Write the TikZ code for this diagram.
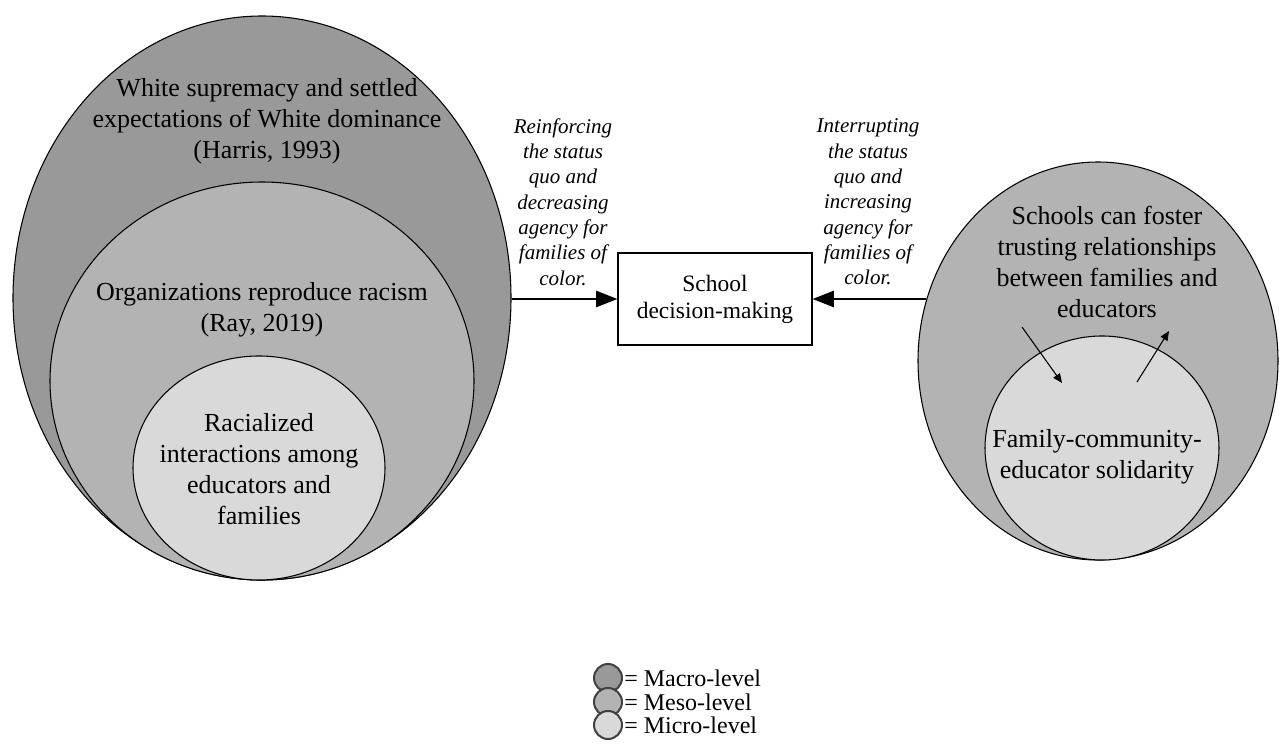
\documentclass[tikz,border=0pt]{standalone}
\usepackage{fontspec}
\setmainfont{Liberation Serif}
\definecolor{macrogray}{RGB}{153, 153, 153}
\definecolor{mesogray}{RGB}{179, 179, 179}
\definecolor{microgray}{RGB}{217, 217, 217}
\usetikzlibrary{shapes.geometric, arrows.meta, positioning, calc}

\begin{document}
\begin{tikzpicture}[x=0.75pt, y=-0.75pt,
    level/.style={ellipse, draw=black, line width=0.8pt, inner sep=0pt},
    maintext/.style={align=center, inner sep=0pt, font=\fontsize{19.5}{23.25}\selectfont},
    pathtext/.style={align=center, inner sep=0pt, font=\fontsize{15.75}{19}\selectfont\itshape},
    bigarrow/.style={line width=1.9pt, -{Triangle[length=16pt, width=12pt]}},
    smallarrow/.style={line width=0.8pt, -{Triangle[length=7pt, width=6pt]}},
    legendring/.style={circle, draw=black!75, line width=1.5pt, minimum size=21pt, inner sep=0pt},
    legendtext/.style={anchor=west, inner sep=0pt, font=\fontsize{18}{20}\selectfont}]
  \useasboundingbox (0,0) rectangle (1279,748);

  % left: nested levels
  \node[level, fill=macrogray, minimum width=373.5pt, minimum height=423pt] (macroL) at (262,298) {};
  \node[level, fill=mesogray, minimum width=318pt, minimum height=298.5pt] (mesoL) at (262,381) {};
  \node[level, fill=microgray, minimum width=189pt, minimum height=168pt] (microL) at (259,468) {};
  \node[maintext] (supremacy) at (267,121) {White supremacy and settled\\expectations of White dominance\\(Harris, 1993)};
  \node[maintext] (organizations) at (262,310) {Organizations reproduce racism\\(Ray, 2019)};
  \node[maintext] (racialized) at (259,469) {Racialized\\interactions among\\educators and\\families};

  % right: nested levels
  \node[level, fill=mesogray, minimum width=270pt, minimum height=298.5pt] (mesoR) at (1098,361) {};
  \node[level, fill=microgray, minimum width=175.5pt, minimum height=168pt] (microR) at (1102,448) {};
  \node[maintext] (trust) at (1107,262) {Schools can foster\\trusting relationships\\between families and\\educators};
  \node[maintext] (solidarity) at (1097,457) {Family-community-\\educator solidarity};
  \coordinate (downA) at (1022,327);
  \coordinate (downB) at (1062,383);
  \coordinate (upA) at (1137,382);
  \coordinate (upB) at (1169,331);
  \draw[smallarrow] (downA) -- (downB);
  \draw[smallarrow] (upA) -- (upB);

  % centre
  \node[draw=black, line width=0.8pt, minimum width=145.5pt, minimum height=69pt, inner sep=0pt,
        align=center, font=\fontsize{17.6}{20.25}\selectfont] (school) at (715,299) {School\\decision-making};
  \node[pathtext] (reinforce) at (563,202) {Reinforcing\\the status\\quo and\\decreasing\\agency for\\families of\\color.};
  \node[pathtext] (interrupt) at (868,202) {Interrupting\\the status\\quo and\\increasing\\agency for\\families of\\color.};
  \coordinate (mesoRedge) at (926,299);
  \draw[bigarrow] (macroL.east |- school.west) -- (school.west);
  \draw[bigarrow] (mesoRedge) -- (school.east);

  % legend
  \node[legendring, fill=macrogray] (keymacro) at (608,678) {};
  \node[legendring, fill=mesogray] (keymeso) at (608,702) {};
  \node[legendring, fill=microgray] (keymicro) at (608,725) {};
  \node[legendtext] (labelmacro) at (624,678) {= Macro-level};
  \node[legendtext] (labelmeso) at (624,702) {= Meso-level};
  \node[legendtext] (labelmicro) at (624,725) {= Micro-level};
\end{tikzpicture}
\end{document}
